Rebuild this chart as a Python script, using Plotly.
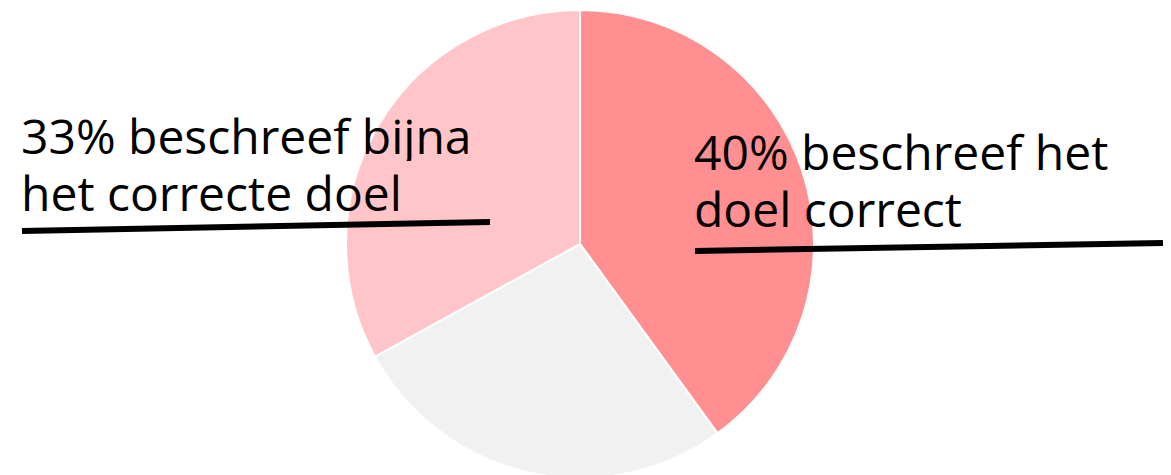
import plotly.graph_objects as go

labels = ["beschreef het doel correct", "overig", "beschreef bijna het correcte doel"]
values = [40, 27, 33]
colors = ["#ff8f91", "#f1f1f1", "#ffc5c8"]
right_lines = ["40% beschreef het", "doel correct"]
left_lines = ["33% beschreef bijna", "het correcte doel"]

W, H = 1155, 490
OFF = 8  # page body margin


def px(x):
    return (x - OFF) / W


def py(y):
    return 1 - (y - OFF) / H


fig = go.Figure()
cx, cy, r = px(580), py(244), 234 / H
fig.add_trace(go.Pie(
    labels=labels, values=values, sort=False, direction="clockwise", rotation=0,
    marker=dict(colors=colors, line=dict(color="white", width=2)),
    textinfo="none", hoverinfo="label+percent", showlegend=False,
    domain=dict(x=[cx - 0.3, cx + 0.3], y=[cy - r, cy + r]),
))

font = dict(family="Open Sans", size=48, color="black")
for i, t in enumerate(left_lines):
    fig.add_annotation(x=px(20), y=py(135 + 57 * i), xref="paper", yref="paper",
                       text=t, showarrow=False, xanchor="left", yanchor="middle",
                       align="left", valign="middle", height=52, borderpad=0, font=font)
for i, t in enumerate(right_lines):
    fig.add_annotation(x=px(693), y=py(151 + 57 * i), xref="paper", yref="paper",
                       text=t, showarrow=False, xanchor="left", yanchor="middle",
                       align="left", valign="middle", height=52, borderpad=0, font=font)

fig.add_shape(type="line", xref="paper", yref="paper",
              x0=px(695), y0=py(251), x1=px(1163), y1=py(243),
              line=dict(color="black", width=6))
fig.add_shape(type="line", xref="paper", yref="paper",
              x0=px(22), y0=py(231), x1=px(490), y1=py(222),
              line=dict(color="black", width=6))

fig.update_layout(width=W, height=H, margin=dict(l=0, r=0, t=0, b=0),
                  paper_bgcolor="white", plot_bgcolor="white")
fig.write_html("out.html")
